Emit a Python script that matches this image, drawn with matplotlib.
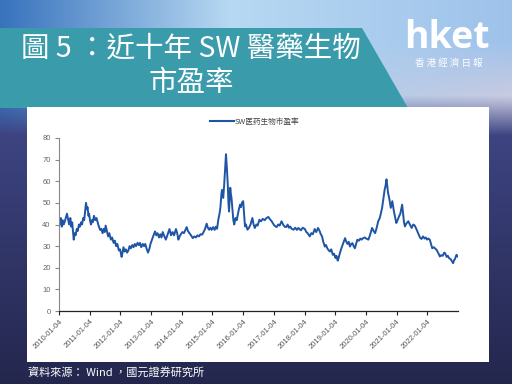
import numpy as np
import pandas as pd
import matplotlib
matplotlib.use("Agg")
import matplotlib.pyplot as plt
from matplotlib.patches import Polygon, Rectangle

# ---- data (years since 2010-01-04, PE values) ----
years_since_start = [
    0.00, 0.03, 0.06, 0.09, 0.12, 0.15, 0.18, 0.22, 0.26, 0.30, 0.33, 0.37, 0.40, 0.43, 0.46, 0.48,
    0.51, 0.54, 0.58, 0.61, 0.65, 0.68, 0.72, 0.75, 0.79, 0.82, 0.85, 0.88, 0.91, 0.93, 0.96, 0.98,
    1.01, 1.04, 1.07, 1.10, 1.14, 1.18, 1.22, 1.26, 1.30, 1.34, 1.38, 1.42, 1.46, 1.49, 1.52, 1.56,
    1.60, 1.64, 1.69, 1.73, 1.78, 1.82, 1.86, 1.90, 1.95, 1.99,
    2.04, 2.07, 2.10, 2.14, 2.18, 2.22, 2.26, 2.30, 2.34, 2.39, 2.43, 2.47, 2.51, 2.56, 2.60, 2.64,
    2.68, 2.73, 2.77, 2.81, 2.85, 2.90, 2.94, 2.98,
    3.03, 3.08, 3.13, 3.17, 3.21, 3.26, 3.30, 3.34, 3.38, 3.42, 3.48, 3.53, 3.60, 3.65, 3.70, 3.75,
    3.81, 3.85, 3.89, 3.93, 3.97,
    4.02, 4.07, 4.12, 4.16, 4.20, 4.25, 4.30, 4.36, 4.41, 4.46, 4.51, 4.56, 4.61, 4.66, 4.71, 4.76,
    4.81, 4.85, 4.89, 4.93, 4.97,
    5.02, 5.07, 5.11, 5.15, 5.19, 5.23, 5.26, 5.29, 5.31, 5.35, 5.38, 5.40, 5.42, 5.44, 5.47, 5.50,
    5.52, 5.54, 5.56, 5.58, 5.60, 5.62, 5.65, 5.68, 5.71, 5.75, 5.79, 5.83, 5.86, 5.90, 5.93, 5.96,
    6.00, 6.03, 6.06, 6.09, 6.14, 6.19, 6.24, 6.30, 6.34, 6.38, 6.43, 6.47, 6.53, 6.58, 6.64, 6.70,
    6.76, 6.82, 6.87, 6.93, 6.97,
    7.02, 7.09, 7.14, 7.19, 7.25, 7.30, 7.35, 7.40, 7.45, 7.49, 7.53, 7.58, 7.64, 7.70, 7.75, 7.80,
    7.88, 7.94, 8.01, 8.06, 8.10, 8.17, 8.22, 8.27, 8.33, 8.38, 8.44, 8.49, 8.53, 8.57, 8.61, 8.66,
    8.70, 8.74, 8.79, 8.83, 8.87, 8.92, 8.96,
    9.01, 9.04, 9.08, 9.11, 9.15, 9.20, 9.25, 9.32, 9.36, 9.40, 9.44, 9.48, 9.52, 9.56, 9.60, 9.64,
    9.68, 9.72, 9.77, 9.82, 9.86, 9.91, 9.96,
    10.01, 10.08, 10.13, 10.20, 10.25, 10.30, 10.35, 10.40, 10.45, 10.49, 10.53, 10.57, 10.61, 10.64,
    10.67, 10.70, 10.72, 10.76, 10.81, 10.83, 10.86, 10.90, 10.94, 10.99,
    11.03, 11.08, 11.12, 11.15, 11.18, 11.21, 11.24, 11.27, 11.32, 11.38, 11.43, 11.49, 11.54, 11.59,
    11.64, 11.70, 11.76, 11.81, 11.86, 11.91, 11.95, 11.99,
    12.03, 12.08, 12.12, 12.16, 12.21, 12.30, 12.35, 12.41, 12.45, 12.50, 12.55, 12.58, 12.63, 12.67,
    12.71, 12.76, 12.80, 12.84, 12.87, 12.90, 12.95, 12.99]
pe_value = [
    41, 40, 43, 39, 42, 40, 41, 43, 45, 42, 40, 43, 39, 41, 36, 33,
    36, 35, 38, 37, 40, 39, 41, 40, 43, 42, 46, 50, 47, 48, 44, 45,
    42, 40, 42, 41, 44, 42, 43, 41, 39, 37.5, 38, 36, 38, 36.5, 39.5, 37,
    34.5, 36, 33, 34, 31.5, 32.5, 30, 31, 28, 28.5,
    25, 27, 29.5, 27.5, 28.5, 27, 28, 30, 29, 30.5, 29.5, 31, 30, 31.5, 30.5, 31.5,
    29.5, 31, 30, 31, 29, 27, 28.5, 31,
    33, 35, 36.8, 35, 36, 34, 35.5, 34, 36.5, 35, 33, 35, 37.9, 35, 36.5, 35,
    37.9, 36, 33, 34.5, 35.5,
    36.5, 36, 37.5, 38.8, 37, 36, 35, 33.7, 34.5, 34, 35, 34.5, 35.5, 35.3, 36.5, 38,
    40.4, 38.5, 37.6, 38.5, 37.5,
    38.8, 37.5, 39, 38, 42.2, 45, 48, 54, 56, 52.3, 58, 63, 68, 72.5, 66, 58,
    50, 46, 52, 57, 54, 52.3, 47, 42, 40, 43, 42, 45, 47, 49.2, 48, 50,
    50.8, 45, 39.1, 40, 37.6, 38.5, 40, 43, 40, 38.4, 40, 39.5, 42.2, 41.5, 42.6, 42,
    43, 43.5, 42.5, 41.5, 40.5,
    39.5, 38.8, 40, 39.5, 41.5, 40, 39, 38.8, 40, 38.5, 39.1, 38, 37.6, 38.5, 37.5, 38.4,
    37.3, 38.5, 37.9, 36.5, 36, 34.5, 36, 35.5, 37.9, 36.5, 38.4, 37, 35.5, 34.5, 32, 29.8,
    30.5, 29, 28, 27.5, 28.5, 26, 26.5,
    24.5, 25.5, 23.3, 24.5, 26.7, 29, 31, 33.7, 32, 31, 32, 29.8, 31, 31.4, 30, 29,
    31, 33, 32.5, 33.5, 33, 33.7, 34,
    33.5, 33, 35, 38.4, 37, 36, 38.5, 41.5, 43, 45.3, 48, 52, 56.2, 58,
    60.9, 57, 54.7, 52, 47.7, 49, 50.8, 47, 44, 40.7,
    42, 43.8, 45, 47, 49.2, 45, 41, 39.1, 40.5, 41.5, 40, 38.4, 40, 39.5,
    38, 36, 34, 33.3, 34.5, 33.5, 34, 33,
    33.5, 33, 31, 29, 29.5, 28.3, 27, 25.2, 25.8, 25.5, 27, 26.7, 25, 25.5,
    24.4, 24, 23, 22.1, 23.5, 24, 26, 25.2]
tick_labels = ["2010-01-04", "2011-01-04", "2012-01-04", "2013-01-04", "2014-01-04",
               "2015-01-04", "2016-01-04", "2017-01-04", "2018-01-04", "2019-01-04",
               "2020-01-04", "2021-01-04", "2022-01-04"]
y_ticks = [0, 10, 20, 30, 40, 50, 60, 70, 80]
series_name = "SW医药生物市盈率"
title_line1 = "圖 5 ：近十年 SW 醫藥生物"
title_line2 = "市盈率"
logo_text = "hket"
logo_sub = "香 港 經 濟 日 報"
source_text = "資料來源： Wind ，國元證券研究所"

dates = pd.Timestamp("2010-01-04") + pd.to_timedelta(np.array(years_since_start) * 365.25, unit="D")

W, H = 512, 384
fig = plt.figure(figsize=(W / 100, H / 100), dpi=100)

# ---- background layer ----
bg = fig.add_axes([0, 0, 1, 1])
bg.set_xlim(0, W)
bg.set_ylim(H, 0)
bg.axis("off")

yy, xx = np.mgrid[0:H, 0:W].astype(float)
fx = xx / W
c_left = np.array([0.22, 0.45, 0.74])
c_mid = np.array([0.72, 0.85, 0.95])
c_right = np.array([0.62, 0.76, 0.92])
wl = np.clip(1 - fx / 0.45, 0, 1)[..., None]
wr = np.clip((fx - 0.45) / 0.55, 0, 1)[..., None]
top = c_mid * (1 - wl - wr) + c_left * wl + c_right * wr
pale = np.array([0.80, 0.80, 0.88])
sp = np.clip((yy - 40) / 60, 0, 1)[..., None] * np.clip((fx - 0.5) / 0.5, 0, 1)[..., None]
top = top * (1 - sp) + pale * sp
navy1 = np.array([0.25, 0.28, 0.53])
navy2 = np.array([0.14, 0.15, 0.30])
sl = np.clip((yy - 105) / 280, 0, 1)[..., None]
low = navy1 * (1 - sl) + navy2 * sl
s = np.clip((yy - 95) / 40, 0, 1)[..., None]
img = top * (1 - s) + low * s
bg.imshow(img, extent=[0, W, H, 0], aspect="auto", zorder=0)

bg.add_patch(Polygon([[0, 28], [362, 28], [408, 108], [0, 108]], closed=True,
                     facecolor="#3a9bab", edgecolor="none", zorder=1))
bg.add_patch(Rectangle((27, 107), 462, 255, facecolor="white", edgecolor="none", zorder=2))

cjk = ["Noto Sans CJK TC", "DejaVu Sans"]
bg.text(191, 49, title_line1, color="white", fontsize=20.5, family=cjk, weight="light",
        ha="center", va="center", zorder=3)
bg.text(191, 83, title_line2, color="white", fontsize=20.5, family=cjk, weight="light",
        ha="center", va="center", zorder=3)
bg.text(447, 38, logo_text, color="white", fontsize=27, family="Open Sans", weight="bold",
        ha="center", va="center", zorder=3)
bg.text(449, 63, logo_sub, color="white", fontsize=6.8, family=cjk,
        ha="center", va="center", zorder=3)
bg.text(28, 373, source_text, color="white", fontsize=8, family=cjk,
        ha="left", va="center", zorder=3)

# ---- chart ----
ax = fig.add_axes([59 / W, 1 - 311 / H, 399 / W, 173 / H])
ax.set_facecolor("white")
ax.plot(dates, pe_value, color="#1f55a5", lw=1.4, label=series_name)
ax.set_ylim(0, 80)
ax.set_yticks(y_ticks)
ticks = pd.to_datetime(tick_labels)
ax.set_xticks(ticks)
ax.set_xticklabels(tick_labels, rotation=45, ha="right", rotation_mode="anchor",
                   fontsize=5.5, color="#555555", family="Liberation Sans")
ax.set_xlim(pd.Timestamp("2010-01-04"), pd.Timestamp("2023-01-04"))
for lab in ax.get_yticklabels():
    lab.set_fontsize(5.5)
    lab.set_color("#666666")
    lab.set_family("Liberation Sans")
for sp_ in ["top", "right"]:
    ax.spines[sp_].set_visible(False)
ax.spines["left"].set_color("#888888")
ax.spines["left"].set_linewidth(0.8)
ax.spines["bottom"].set_color("#222222")
ax.spines["bottom"].set_linewidth(0.9)
ax.tick_params(axis="y", length=3, width=0.8, color="#888888", pad=3)
ax.tick_params(axis="x", length=3, width=0.8, color="#222222", pad=2)
leg = ax.legend(loc="center", bbox_to_anchor=(0.49, 1.092), frameon=False,
                handlelength=3.2, handletextpad=0.1,
                prop={"family": ["Noto Sans CJK SC", "DejaVu Sans"], "size": 5.5})
for t in leg.get_texts():
    t.set_color("#444444")
for l in leg.get_lines():
    l.set_linewidth(1.5)

fig.savefig("out.png", dpi=100)
